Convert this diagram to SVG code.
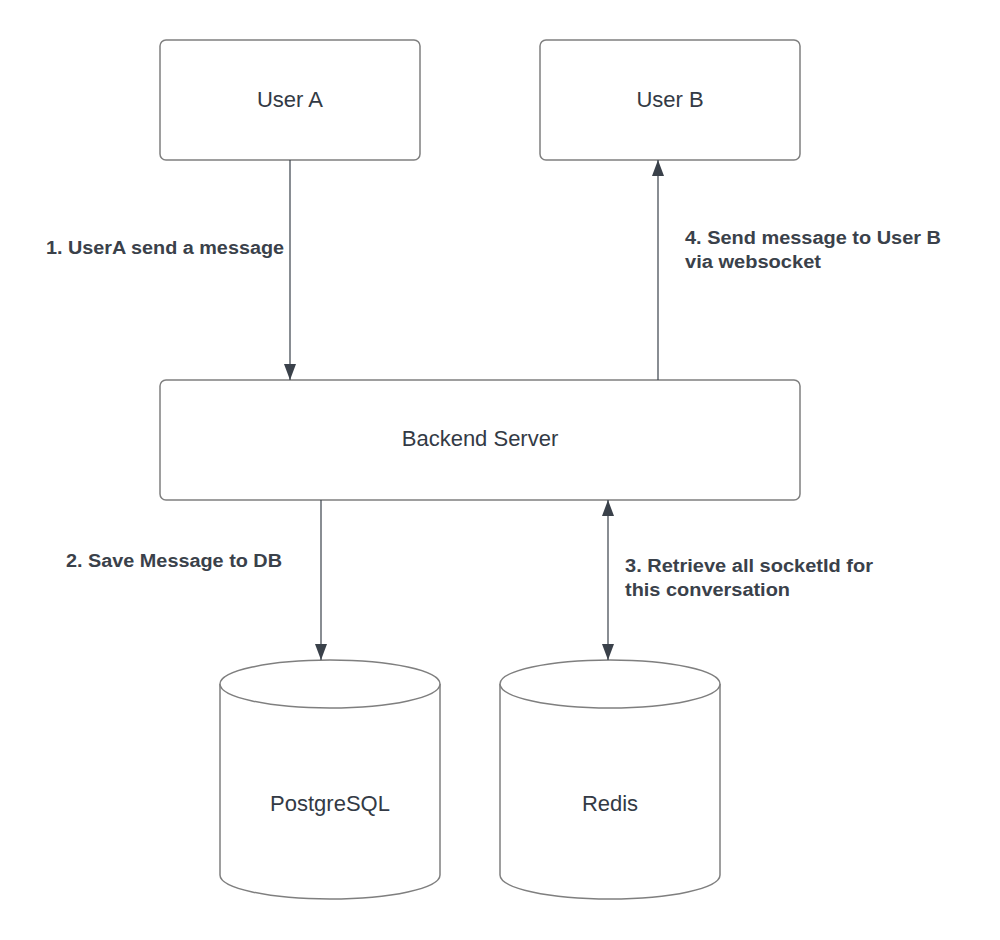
<svg xmlns="http://www.w3.org/2000/svg" width="1000" height="940" viewBox="0 0 1000 940">
<style>
.box{fill:#fff;stroke:#7f7f7f;stroke-width:1.5}
.nt{font-family:"Liberation Sans",Arial,sans-serif;font-size:22px;fill:#333a45;text-anchor:middle}
.lbl{font-family:"Liberation Sans",Arial,sans-serif;font-size:18px;font-weight:bold;fill:#3a414a}
.con{stroke:#3a414a;stroke-width:1.2;fill:none}
</style>
<defs>
<marker id="a" viewBox="0 0 16 12" refX="16" refY="6" markerWidth="16" markerHeight="12" markerUnits="userSpaceOnUse" orient="auto-start-reverse">
<path d="M0,0 L16,6 L0,12 Z" fill="#3a414a"/>
</marker>
</defs>
<rect width="1000" height="940" fill="#fff"/>
<g id="userA"><rect class="box" x="160" y="40" width="260" height="120" rx="6"/><text class="nt" x="290" y="107">User A</text></g>
<g id="userB"><rect class="box" x="540" y="40" width="260" height="120" rx="6"/><text class="nt" x="670" y="107">User B</text></g>
<g id="backend"><rect class="box" x="160" y="380" width="640" height="120" rx="6"/><text class="nt" x="480" y="446">Backend Server</text></g>
<g id="postgres">
<path class="box" d="M220,684 L220,875 A110,24 0 0 0 440,875 L440,684"/>
<ellipse class="box" cx="330" cy="684" rx="110" ry="24"/>
<text class="nt" x="330" y="811">PostgreSQL</text>
</g>
<g id="redis">
<path class="box" d="M500,684 L500,875 A110,24 0 0 0 720,875 L720,684"/>
<ellipse class="box" cx="610" cy="684" rx="110" ry="24"/>
<text class="nt" x="610" y="811">Redis</text>
</g>
<g id="connectors">
<line class="con" x1="290" y1="160" x2="290" y2="380" marker-end="url(#a)"/>
<line class="con" x1="658" y1="380" x2="658" y2="160" marker-end="url(#a)"/>
<line class="con" x1="321" y1="500" x2="321" y2="660" marker-end="url(#a)"/>
<line class="con" x1="608" y1="500" x2="608" y2="660" marker-start="url(#a)" marker-end="url(#a)"/>
</g>
<g id="labels">
<text class="lbl" x="46" y="254" textLength="238" lengthAdjust="spacingAndGlyphs">1. UserA send a message</text>
<text class="lbl" x="66" y="567" textLength="216" lengthAdjust="spacingAndGlyphs">2. Save Message to DB</text>
<text class="lbl" x="625" y="572" textLength="248" lengthAdjust="spacingAndGlyphs">3. Retrieve all socketId for</text>
<text class="lbl" x="625" y="596" textLength="165" lengthAdjust="spacingAndGlyphs">this conversation</text>
<text class="lbl" x="685" y="244" textLength="256" lengthAdjust="spacingAndGlyphs">4. Send message to User B</text>
<text class="lbl" x="685" y="268" textLength="136" lengthAdjust="spacingAndGlyphs">via websocket</text>
</g>
</svg>
